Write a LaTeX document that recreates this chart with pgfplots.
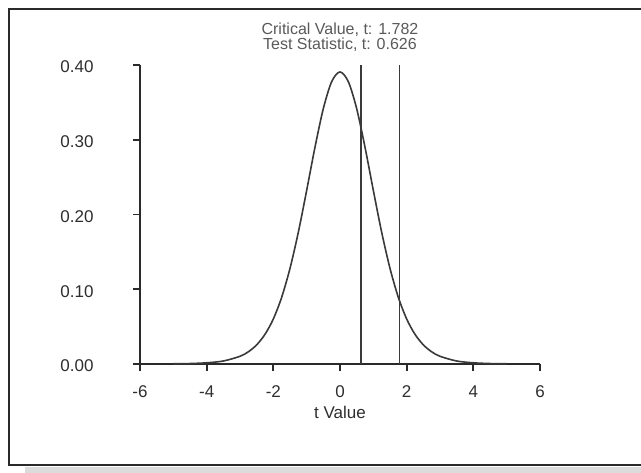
\documentclass[border=0pt]{standalone}
\usepackage{fontspec}
\setmainfont{Liberation Sans}
\usepackage{pgfplots}
\pgfplotsset{compat=1.18}
\definecolor{framec}{HTML}{2A2A2A}
\definecolor{shadowc}{HTML}{DCDCDC}
\definecolor{curvec}{HTML}{3A3A3A}
\definecolor{textc}{HTML}{2E2E2E}
\definecolor{titlec}{HTML}{5A5A5A}
\begin{document}
\begin{tikzpicture}[x=1pt,y=1pt]
\useasboundingbox (0,0) rectangle (641,473);
\fill[white] (0,0) rectangle (641,473);
\fill[shadowc] (25,0) rectangle (641,6);
\draw[framec, line width=2pt] (641,463.5) -- (9,463.5) -- (9,8) -- (641,8);
\begin{axis}[
  at={(140pt,109pt)}, anchor=south west,
  scale only axis, width=400pt, height=299pt,
  xmin=-6, xmax=6, ymin=0, ymax=0.4,
  axis lines*=left,
  axis line style={line width=1.8pt, color=framec},
  xtick={-6,-4,-2,0,2,4,6},
  ytick={0,0.1,0.2,0.3,0.4},
  tick align=outside,
  major tick length=7pt,
  tick style={line width=1.8pt, color=framec},
  /pgf/number format/assume math mode=true,
  ticklabel style={font=\fontsize{17}{18}\selectfont, text=textc},
  xticklabel style={yshift=-11pt},
  yticklabel style={/pgf/number format/fixed, /pgf/number format/fixed zerofill, /pgf/number format/precision=2, xshift=-36pt, yshift=-2pt},
  xlabel={t Value},
  xlabel style={font=\fontsize{17}{18}\selectfont, text=textc, yshift=-2pt},
  title={Critical Value, t: 1.782\\Test Statistic, t: 0.626},
  title style={at={(axis description cs:0.5,1)}, anchor=south, align=center, yshift=7pt, inner sep=0pt,
    font=\fontsize{16}{15}\selectfont, text=titlec},
  clip=false,
]
\addplot[curvec, line width=1.6pt, smooth] coordinates {
(-5.0,0.0003) (-4.5,0.0006) (-4.0,0.0016) (-3.5,0.0040) (-3.0,0.0103) (-2.75,0.0163)
(-2.5,0.0256) (-2.25,0.0397) (-2.0,0.0602) (-1.75,0.0892) (-1.5,0.1279) (-1.25,0.1763)
(-1.0,0.2322) (-0.75,0.2901) (-0.5,0.3417) (-0.25,0.3777) (0,0.3907)
(0.25,0.3777) (0.5,0.3417) (0.75,0.2901) (1.0,0.2322) (1.25,0.1763) (1.5,0.1279)
(1.75,0.0892) (2.0,0.0602) (2.25,0.0397) (2.5,0.0256) (2.75,0.0163) (3.0,0.0103)
(3.5,0.0040) (4.0,0.0016) (4.5,0.0006) (5.0,0.0003)
};
\addplot[curvec, line width=1.6pt] coordinates {(0.626,0) (0.626,0.4)};
\addplot[curvec, line width=1.6pt] coordinates {(1.782,0) (1.782,0.4)};
\end{axis}
\end{tikzpicture}
\end{document}
